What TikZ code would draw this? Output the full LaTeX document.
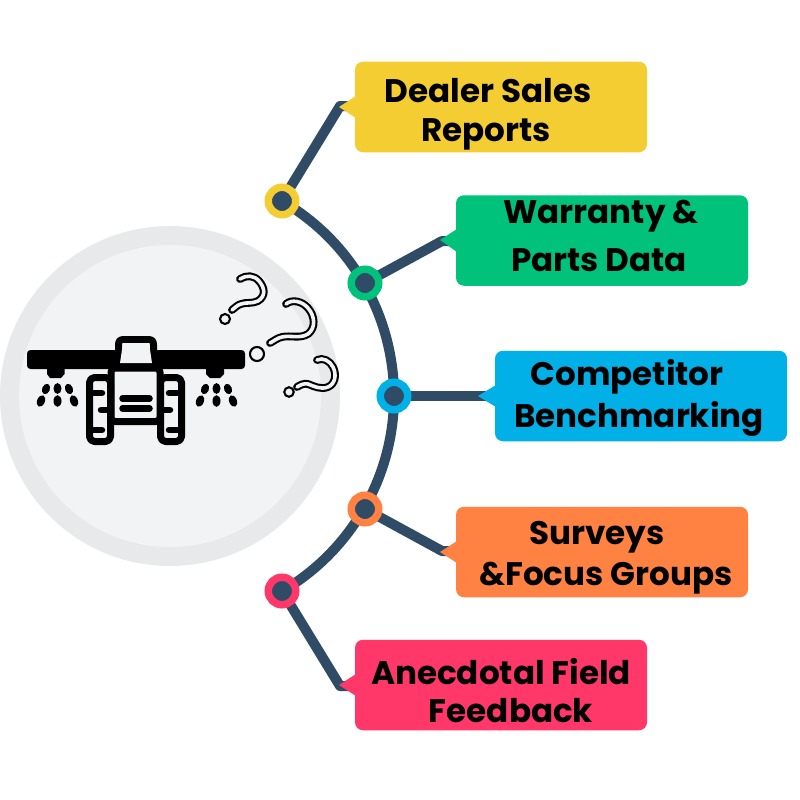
\documentclass[tikz,border=0pt]{standalone}
\usepackage{fontspec}
\setmainfont{Poppins}[BoldFont={Poppins Bold}]
\usetikzlibrary{calc}
\definecolor{lnk}{HTML}{2F4B66}
\definecolor{ybox}{HTML}{F4CD33}
\definecolor{gbox}{HTML}{00C27A}
\definecolor{bbox}{HTML}{00B0E6}
\definecolor{obox}{HTML}{FF8243}
\definecolor{pbox}{HTML}{FF3869}
\definecolor{ring}{HTML}{E8E9EB}
\definecolor{disc}{HTML}{F1F3F5}
\tikzset{
 x=1pt,y=-1pt,
 hub/.style={circle,draw=#1,line width=7.5pt,fill=lnk,minimum size=27.5pt,inner sep=0pt},
 card/.style={fill=#1,rounded corners=8pt,minimum width=292pt,minimum height=90.5pt,inner sep=0pt},
 lab/.style={font=\fontsize{32.6}{32.6}\selectfont\bfseries,text=black,inner sep=0pt,anchor=base},
 link/.style={draw=lnk,line width=10pt},
 ico/.style={draw=black,line width=7pt,line join=round,line cap=round},
 qm/.style={draw=black,line width=2.1pt,double=disc,double distance=3.6pt,line cap=round,line join=round},
 qmdot/.style={circle,draw=black,line width=2.1pt,fill=disc,inner sep=0pt}
}
\begin{document}
\begin{tikzpicture}
\useasboundingbox (0,0) rectangle (800,800);
\fill[white] (0,0) rectangle (800,800);
% disc
\node[circle,fill=ring,minimum size=340pt,inner sep=0pt] (outer) at (170,396) {};
\node[circle,fill=disc,minimum size=302pt,inner sep=0pt] (inner) at (170,396) {};
% tractor
\draw[ico] (118.5,352) -- (118.5,345) .. controls (118.5,341) and (120,339.5) .. (124,339.5) -- (148,339.5) .. controls (152,339.5) and (153.5,341) .. (153.5,345) -- (153.5,352);
\fill[black,rounded corners=3.5pt] (27,350) rectangle (245,369);
\fill[disc] (123,343) -- (149,343) -- (152,363) -- (120,363) -- cycle;
\fill[black] (47,366) -- (64.5,366) -- (64.5,374) -- (61,378) -- (50,378) -- (47,374) -- cycle;
\fill[black] (206,366) -- (224,366) -- (224,374) -- (220,378) -- (210,378) -- (206,374) -- cycle;
\foreach \xx in {0,159}{
 \begin{scope}[shift={(\xx,0)}]
 \fill[shift={(46,389)},rotate=-22] (0,0) ellipse (3.9pt and 5.4pt);
 \fill (57.5,388.5) ellipse (4pt and 5.4pt);
 \fill[shift={(69,389)},rotate=22] (0,0) ellipse (3.9pt and 5.4pt);
 \fill[shift={(41,401)},rotate=-22] (0,0) ellipse (3.9pt and 6pt);
 \fill (57.5,401) ellipse (4pt and 5.8pt);
 \fill[shift={(74,401)},rotate=22] (0,0) ellipse (3.9pt and 6pt);
 \end{scope}}
\draw[ico,rounded corners=4pt] (111,368) rectangle (160,421.5);
\draw[ico,rounded corners=5pt] (89.5,377.5) -- (89.5,441.5) -- (110.5,441.5) -- (110.5,377.5) -- cycle;
\draw[ico,rounded corners=5pt] (160.5,377.5) -- (160.5,441.5) -- (181.5,441.5) -- (181.5,377.5) -- cycle;
\foreach \yy/\aa/\bb in {393/92/102,410/108/101,430/92/102}{
 \draw[ico,line width=6.5pt] (\aa,\yy) -- (\bb,\yy);
 \draw[ico,line width=6.5pt] (271-\aa,\yy) -- (271-\bb,\yy);
}
\draw[ico,line width=6.5pt] (122.5,398.5) -- (149.5,398.5);
\draw[ico,line width=6.5pt] (122.5,408.5) -- (149.5,408.5);
% question marks
\draw[qm] (240,279) .. controls (246,275) and (254,275) .. (259,281) .. controls (265,288) and (266,296) .. (258,301) .. controls (252,304) and (246,302) .. (241,304) .. controls (237,305) and (235,308) .. (232,310);
\node[qmdot,minimum size=10pt] (d1) at (225,319) {};
\draw[qm] (286,304) .. controls (292,299) and (302,301) .. (308,308) .. controls (315,316) and (316,328) .. (308,334) .. controls (300,339) and (290,335) .. (282,337) .. controls (277,338) and (274,341) .. (270,343);
\node[qmdot,minimum size=14pt] (d2) at (257,354) {};
\draw[qm] (317,360) .. controls (323,357) and (330,361) .. (333,367) .. controls (337,375) and (335,384) .. (328,387) .. controls (321,390) and (313,386) .. (308,384) .. controls (304,383) and (300,385) .. (297,387);
\node[qmdot,minimum size=9.5pt] (d3) at (289,392) {};
% cards
\node[card=ybox] (c1) at (501,107) {};
\node[card=gbox] (c2) at (602,240.5) {};
\node[card=bbox] (c3) at (641,396) {};
\node[card=obox] (c4) at (602,552) {};
\node[card=pbox] (c5) at (501,685) {};
% hubs
\coordinate (h1) at (282,201);
\coordinate (h2) at (365,283);
\coordinate (h3) at (394,396);
\coordinate (h4) at (365,509);
\coordinate (h5) at (282,591);
% spine
\draw[link] (h1) arc[start angle=-59.7,end angle=59.7,radius=226];
% elbows
\coordinate (e1) at (340,106);
\coordinate (e2) at (442,241);
\coordinate (e4) at (442,551);
\coordinate (e5) at (340,686);
\draw[link,line join=round] (h1) -- (e1) -- (c1.west |- e1);
\draw[link,line join=round] (h2) -- (e2) -- (c2.west |- e2);
\draw[link] (h3) -- (c3.west |- h3);
\draw[link,line join=round] (h4) -- (e4) -- (c4.west |- e4);
\draw[link,line join=round] (h5) -- (e5) -- (c5.west |- e5);
% pointers
\fill[ybox] (339,107) -- (356,96) -- (356,118) -- cycle;
\fill[gbox] (440,240) -- (457,229) -- (457,252) -- cycle;
\fill[bbox] (478,396) -- (496,385) -- (496,407) -- cycle;
\fill[obox] (440,552) -- (457,541) -- (457,563) -- cycle;
\fill[pbox] (339,685) -- (356,674) -- (356,696) -- cycle;
% hubs on top
\node[hub=ybox] (n1) at (h1) {};
\node[hub=gbox] (n2) at (h2) {};
\node[hub=bbox] (n3) at (h3) {};
\node[hub=obox] (n4) at (h4) {};
\node[hub=pbox] (n5) at (h5) {};
% labels
\node[lab] (t1a) at (488,102) {Dealer Sales};
\node[lab] (t1b) at (486,141) {Reports};
\node[lab] (t2a) at (601,223) {Warranty \&};
\node[lab] (t2b) at (599,271) {Parts Data};
\node[lab] (t3a) at (627,385) {Competitor};
\node[lab] (t3b) at (639,427) {Benchmarking};
\node[lab] (t4a) at (597,544) {Surveys};
\node[lab] (t4b) at (606,585) {\&Focus Groups};
\node[lab] (t5a) at (501,684) {Anecdotal Field};
\node[lab] (t5b) at (511,722) {Feedback};
\end{tikzpicture}
\end{document}
